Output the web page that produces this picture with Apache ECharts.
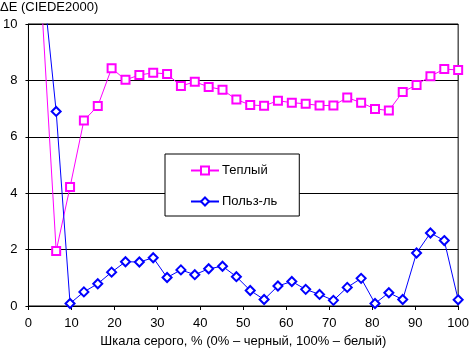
<!DOCTYPE html>
<html><head><meta charset="utf-8">
<script src="https://cdn.jsdelivr.net/npm/echarts@6/dist/echarts.min.js"></script>
<style>html,body{margin:0;padding:0;background:#fff}#c{width:472px;height:353px}</style>
</head><body><div id="c"></div>
<script>
var xValues = [3.23, 6.45, 9.68, 12.90, 16.13, 19.35, 22.58, 25.81, 29.03, 32.26, 35.48, 38.71, 41.94, 45.16, 48.39, 51.61, 54.84, 58.06, 61.29, 64.52, 67.74, 70.97, 74.19, 77.42, 80.65, 83.87, 87.10, 90.32, 93.55, 96.77, 100];
var warmValues = [10.3, 1.95, 4.22, 6.58, 7.09, 8.43, 8.02, 8.19, 8.27, 8.23, 7.80, 7.95, 7.77, 7.67, 7.32, 7.13, 7.10, 7.28, 7.21, 7.17, 7.11, 7.11, 7.39, 7.21, 6.99, 6.93, 7.59, 7.84, 8.15, 8.40, 8.37];
var userValues = [11.7, 6.90, 0.09, 0.50, 0.79, 1.20, 1.57, 1.56, 1.71, 1.01, 1.28, 1.11, 1.32, 1.41, 1.04, 0.55, 0.23, 0.71, 0.87, 0.59, 0.41, 0.20, 0.66, 0.98, 0.09, 0.47, 0.23, 1.88, 2.59, 2.32, 0.22];
var seriesNames = ['Теплый', 'Польз-ль'];
var yTitle = 'ΔE (CIEDE2000)';
var xTitle = 'Шкала серого, % (0% – черный, 100% – белый)';

function pairs(ys) { return xValues.map(function (x, i) { return [x, ys[i]]; }); }

var font = '"Liberation Sans", Arial, sans-serif';
var chart = echarts.init(document.getElementById('c'), null, {renderer: 'canvas'});
chart.setOption({
  animation: false,
  backgroundColor: '#fff',
  textStyle: {fontFamily: font, color: '#000'},
  title: {text: yTitle, left: 0, top: 1, padding: 0,
    textStyle: {fontFamily: font, fontSize: 13, fontWeight: 'normal', color: '#000'}},
  grid: {left: 23, right: 10, top: 24, bottom: 43, show: true, borderColor: '#000', borderWidth: 1, backgroundColor: 'transparent'},
  legend: {
    orient: 'vertical', left: 165, top: 154,
    padding: [10, 22, 8, 25], itemGap: 18, itemWidth: 28, itemHeight: 10,
    borderColor: '#000', borderWidth: 1, backgroundColor: '#fff',
    textStyle: {fontFamily: font, fontSize: 13, color: '#000', padding: [0, 0, 0, -2]},
    data: seriesNames
  },
  xAxis: {
    type: 'value', min: 0, max: 100, interval: 10,
    name: xTitle, nameLocation: 'middle', nameGap: 29,
    nameTextStyle: {fontFamily: font, fontSize: 13, color: '#000'},
    axisLine: {onZero: false, lineStyle: {color: '#000', width: 1}},
    axisTick: {show: true, length: 4, lineStyle: {color: '#000'}},
    axisLabel: {fontFamily: font, fontSize: 13, color: '#000', margin: 11},
    splitLine: {show: false}
  },
  yAxis: {
    type: 'value', min: 0, max: 10, interval: 2,
    axisLine: {show: true, lineStyle: {color: '#000', width: 1}},
    axisTick: {show: true, length: 3, lineStyle: {color: '#000'}},
    axisLabel: {fontFamily: font, fontSize: 13, color: '#000', margin: 11},
    splitLine: {show: true, lineStyle: {color: '#000', width: 1}}
  },
  series: [
    {name: seriesNames[0], type: 'line', data: pairs(warmValues), clip: true,
     symbol: 'emptyRect', symbolSize: 8, color: '#ff00ff',
     lineStyle: {color: '#ff00ff', width: 1}, itemStyle: {color: '#ff00ff', borderWidth: 1}},
    {name: seriesNames[1], type: 'line', data: pairs(userValues), clip: true,
     symbol: 'emptyDiamond', symbolSize: 9, color: '#0000ff',
     lineStyle: {color: '#0000ff', width: 1}, itemStyle: {color: '#0000ff', borderWidth: 1}}
  ]
});
</script></body></html>
